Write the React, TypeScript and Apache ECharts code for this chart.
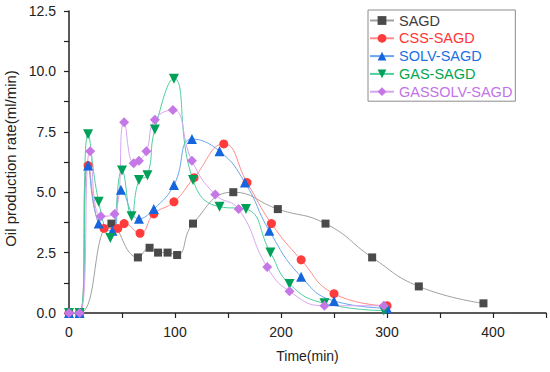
import React, { useEffect, useRef } from "react";
import * as echarts from "echarts";

const seriesNames = ["SAGD", "CSS-SAGD", "SOLV-SAGD", "GAS-SAGD", "GASSOLV-SAGD"];

const sagdTime = [0, 10, 40, 65, 76, 84, 93, 102, 117, 155, 197, 242, 286, 330, 391];
const sagdRate = [0, 0, 3.7, 2.3, 2.7, 2.5, 2.5, 2.4, 3.7, 5.0, 4.3, 3.7, 2.3, 1.1, 0.4];

const cssTime = [0, 10, 18, 33, 46, 52, 67, 80, 99, 118, 146, 168, 191, 219, 250, 300];
const cssRate = [0, 0, 6.1, 3.5, 3.5, 3.7, 3.3, 4.1, 4.6, 5.6, 7.0, 5.4, 3.7, 2.2, 0.8, 0.3];

const solvTime = [0, 10, 18, 28, 41, 49, 66, 80, 99, 116, 142, 166, 189, 219, 250, 300];
const solvRate = [0, 0, 6.1, 3.7, 3.4, 5.1, 3.9, 4.3, 5.3, 7.2, 6.7, 5.4, 3.4, 1.5, 0.5, 0.2];

const gasTime = [0, 10, 18, 28, 39, 50, 59, 66, 74, 81, 99, 117, 142, 167, 190, 208, 241, 297];
const gasRate = [0, 0, 7.4, 4.6, 3.1, 5.9, 4.0, 5.5, 5.7, 7.6, 9.7, 5.5, 4.4, 4.3, 2.5, 1.2, 0.4, 0.1];

const gassolvTime = [0, 10, 20, 30, 43, 52, 61, 66, 73, 81, 98, 116, 138, 160, 187, 208, 241, 297];
const gassolvRate = [0, 0, 6.7, 4.0, 4.1, 7.9, 6.2, 6.3, 6.7, 8.0, 8.4, 6.3, 4.9, 4.3, 1.9, 0.9, 0.3, 0.3];

const xTickLabels = ["0", "100", "200", "300", "400"];
const yTickLabels = ["0.0", "2.5", "5.0", "7.5", "10.0", "12.5"];

const FONT = "'Liberation Sans', Arial, sans-serif";

const markerColors = ["#4a4a4a", "#ff3b3b", "#1565dc", "#00a058", "#c577e6"];
const lineColors = ["#a0a0a0", "#ff8c8c", "#6aa6ee", "#4fcf9f", "#d8a4f0"];
const textColors = ["#3c3c3c", "#ff3535", "#1a6fe4", "#00a552", "#c273e8"];
const symbols = [
  "rect",
  "circle",
  "triangle",
  "path://M0,0 L10,0 L5,9 Z",
  "diamond",
];
const symbolSizes = [8, 9, 10, 10, 10];

const zip = (xs: number[], ys: number[]) => xs.map((x, i) => [x, ys[i]]);

export default function App() {
  const ref = useRef<HTMLDivElement>(null);
  useEffect(() => {
    document.body.style.margin = "0";
    if (!ref.current) return;
    const chart = echarts.init(ref.current, undefined, { renderer: "svg" });
    const datasets = [
      zip(sagdTime, sagdRate),
      zip(cssTime, cssRate),
      zip(solvTime, solvRate),
      zip(gasTime, gasRate),
      zip(gassolvTime, gassolvRate),
    ];
    chart.setOption({
      animation: false,
      backgroundColor: "#ffffff",
      textStyle: { fontFamily: FONT },
      grid: { left: 69, right: 4, top: 11, bottom: 59, containLabel: false, outerBoundsMode: "none" },
      legend: {
        orient: "vertical",
        left: 368,
        top: 10,
        padding: [3, 3, 2, 1],
        borderColor: "#8c8c8c",
        borderWidth: 1,
        itemWidth: 24,
        itemHeight: 11,
        itemGap: 2.8,
        textStyle: { fontFamily: FONT, fontSize: 14.5 },
        data: seriesNames.map((n, i) => ({ name: n, textStyle: { color: textColors[i] } })),
      },
      xAxis: {
        type: "value",
        min: 0,
        max: 450,
        interval: 50,
        name: "Time(min)",
        nameLocation: "middle",
        nameGap: 36,
        nameTextStyle: { fontFamily: FONT, fontSize: 14, color: "#222" },
        axisLine: { show: true, onZero: false, lineStyle: { color: "#222", width: 1.5 } },
        axisTick: { show: true, inside: false, length: 5, lineStyle: { color: "#222", width: 1.2 } },
        axisLabel: {
          fontFamily: FONT,
          fontSize: 14,
          color: "#222",
          margin: 12,
          formatter: (v: number) => {
            const idx = xTickLabels.indexOf(String(v));
            return idx >= 0 ? xTickLabels[idx] : "";
          },
        },
        splitLine: { show: false },
      },
      yAxis: {
        type: "value",
        min: 0,
        max: 12.5,
        interval: 2.5,
        name: "Oil production rate(ml/min)",
        nameLocation: "middle",
        nameGap: 40,
        nameTextStyle: { fontFamily: FONT, fontSize: 15, color: "#222", padding: [0, 0, 0, 7] },
        axisLine: { show: true, onZero: false, lineStyle: { color: "#222", width: 1.5 } },
        axisTick: { show: true, inside: false, length: 5, lineStyle: { color: "#222", width: 1.2 } },
        minorTick: { show: true, splitNumber: 2, length: 5, lineStyle: { color: "#222", width: 1.2 } },
        axisLabel: {
          fontFamily: FONT,
          fontSize: 14,
          color: "#222",
          margin: 13,
          formatter: (v: number) => yTickLabels[Math.round(v / 2.5)] ?? "",
        },
        splitLine: { show: false },
      },
      series: seriesNames.map((name, i) => ({
        name,
        type: "line",
        data: datasets[i],
        smooth: 0.5,
        symbol: symbols[i],
        symbolSize: symbolSizes[i],
        showAllSymbol: true,
        itemStyle: { color: markerColors[i], borderWidth: 0 },
        lineStyle: { color: lineColors[i], width: 1 },
        emphasis: { disabled: true },
      })),
    });
    return () => chart.dispose();
  }, []);
  return <div ref={ref} style={{ width: 550, height: 372 }} />;
}
